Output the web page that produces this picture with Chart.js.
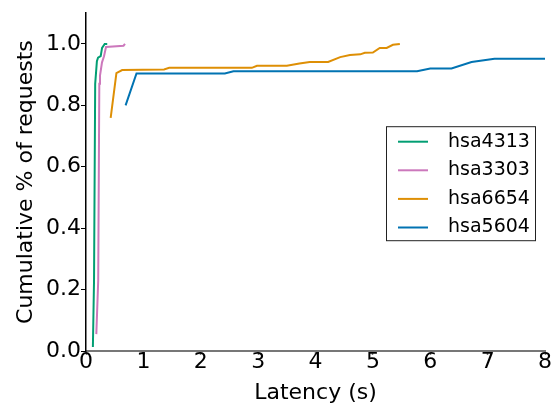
<!DOCTYPE html>
<html>
<head>
<meta charset="utf-8">
<script src="https://cdn.jsdelivr.net/npm/chart.js@4.4.1/dist/chart.umd.min.js"></script>
<style>
  body { margin: 0; background: #fff; }
</style>
</head>
<body>
<canvas id="cdfChart" width="554" height="408"></canvas>
<script>
// latency (s) and cumulative fraction
const names = ['hsa4313', 'hsa3303', 'hsa6654', 'hsa5604'];
const colors = ['#029e73', '#cc78bc', '#de8f05', '#0173b2'];

const lat4313 = [0.12, 0.14, 0.16, 0.19, 0.21, 0.256, 0.28, 0.326, 0.37];
const cdf4313 = [0.013, 0.23, 0.87, 0.944, 0.955, 0.96, 0.987, 1.0, 1.0];

const lat3303 = [0.18, 0.213, 0.232, 0.244, 0.279, 0.314, 0.349, 0.654, 0.68];
const cdf3303 = [0.055, 0.23, 0.87, 0.897, 0.94, 0.96, 0.99, 0.994, 1.0];

const lat6654 = [0.43, 0.53, 0.63, 1.36, 1.45, 2.89, 2.98, 3.5, 3.72, 3.9, 4.22, 4.43, 4.6, 4.78, 4.86, 5.0, 5.12, 5.24, 5.35, 5.47];
const cdf6654 = [0.759, 0.905, 0.915, 0.917, 0.922, 0.922, 0.929, 0.929, 0.936, 0.941, 0.941, 0.957, 0.964, 0.966, 0.971, 0.972, 0.987, 0.987, 0.997, 1.0];

const lat5604 = [0.69, 0.88, 2.42, 2.57, 5.77, 6.0, 6.37, 6.72, 7.12, 8.0];
const cdf5604 = [0.80, 0.904, 0.904, 0.911, 0.911, 0.92, 0.92, 0.941, 0.952, 0.952];

const xTicks = [0, 1, 2, 3, 4, 5, 6, 7, 8];
const yTicks = [0.0, 0.2, 0.4, 0.6, 0.8, 1.0];

const latencies = [lat4313, lat3303, lat6654, lat5604];
const cdfs = [cdf4313, cdf3303, cdf6654, cdf5604];

function toPoints(xs, ys) {
    return xs.map((x, i) => ({ x: x, y: ys[i] }));
}

const datasets = names.map((name, i) => ({
    label: name,
    data: toPoints(latencies[i], cdfs[i]),
    borderColor: colors[i],
    backgroundColor: colors[i],
    borderWidth: 2,
    showLine: true,
    pointRadius: 0,
    tension: 0
}));

// matplotlib-style boxed legend inside the axes
const boxLegend = {
    id: 'boxLegend',
    afterDraw(chart) {
        const ctx = chart.ctx;
        const area = chart.chartArea;
        const x0 = area.right - 159;
        const y0 = area.top + 113;
        const w = 149, h = 114;
        ctx.save();
        ctx.fillStyle = '#ffffff';
        ctx.fillRect(x0, y0, w, h);
        ctx.strokeStyle = '#222';
        ctx.lineWidth = 1;
        ctx.strokeRect(x0 + 0.5, y0 + 0.5, w, h);
        ctx.font = '19px "DejaVu Sans"';
        ctx.textBaseline = 'middle';
        ctx.fillStyle = '#000';
        chart.data.datasets.forEach((ds, i) => {
            const y = y0 + 15.5 + i * 28.6;
            ctx.strokeStyle = ds.borderColor;
            ctx.lineWidth = 2;
            ctx.beginPath();
            ctx.moveTo(x0 + 12, y);
            ctx.lineTo(x0 + 42, y);
            ctx.stroke();
            ctx.fillText(ds.label, x0 + 62, y);
        });
        ctx.restore();
    }
};

const tickFont = { family: 'DejaVu Sans', size: 22 };

new Chart(document.getElementById('cdfChart'), {
    type: 'scatter',
    data: { datasets: datasets },
    options: {
        responsive: false,
        animation: false,
        layout: { padding: { top: 10, right: 9, left: 0, bottom: 0 } },
        plugins: {
            legend: { display: false },
            tooltip: { enabled: false }
        },
        scales: {
            x: {
                type: 'linear',
                min: 0,
                max: 8,
                afterFit: s => { s.height = 57; },
                afterBuildTicks: s => { s.ticks = xTicks.map(v => ({ value: v })); },
                ticks: {
                    font: tickFont,
                    color: '#000',
                    padding: -6,
                    maxRotation: 0,
                    callback: v => String(v)
                },
                grid: {
                    drawOnChartArea: false,
                    drawTicks: true,
                    tickLength: 4,
                    tickColor: '#777',
                    tickWidth: 1.5
                },
                border: { display: true, color: '#777', width: 2 },
                title: {
                    display: true,
                    text: 'Latency (s)',
                    color: '#000',
                    font: { family: 'DejaVu Sans', size: 22, lineHeight: 1.2 },
                    padding: { top: 0, bottom: 2 }
                }
            },
            y: {
                type: 'linear',
                min: 0,
                max: 1.1,
                afterFit: s => { s.width = 86; },
                afterBuildTicks: s => { s.ticks = yTicks.map(v => ({ value: v })); },
                ticks: {
                    font: tickFont,
                    color: '#000',
                    padding: 0,
                    callback: v => v.toFixed(1)
                },
                grid: {
                    drawOnChartArea: false,
                    drawTicks: true,
                    tickLength: 5,
                    tickColor: '#000',
                    tickWidth: 1
                },
                border: { display: true, color: '#000', width: 1.5 },
                title: {
                    display: true,
                    text: 'Cumulative % of requests',
                    color: '#000',
                    font: { family: 'DejaVu Sans', size: 22, lineHeight: 1.2 },
                    padding: { top: 13, bottom: 0 }
                }
            }
        }
    },
    plugins: [boxLegend]
});
</script>
</body>
</html>
